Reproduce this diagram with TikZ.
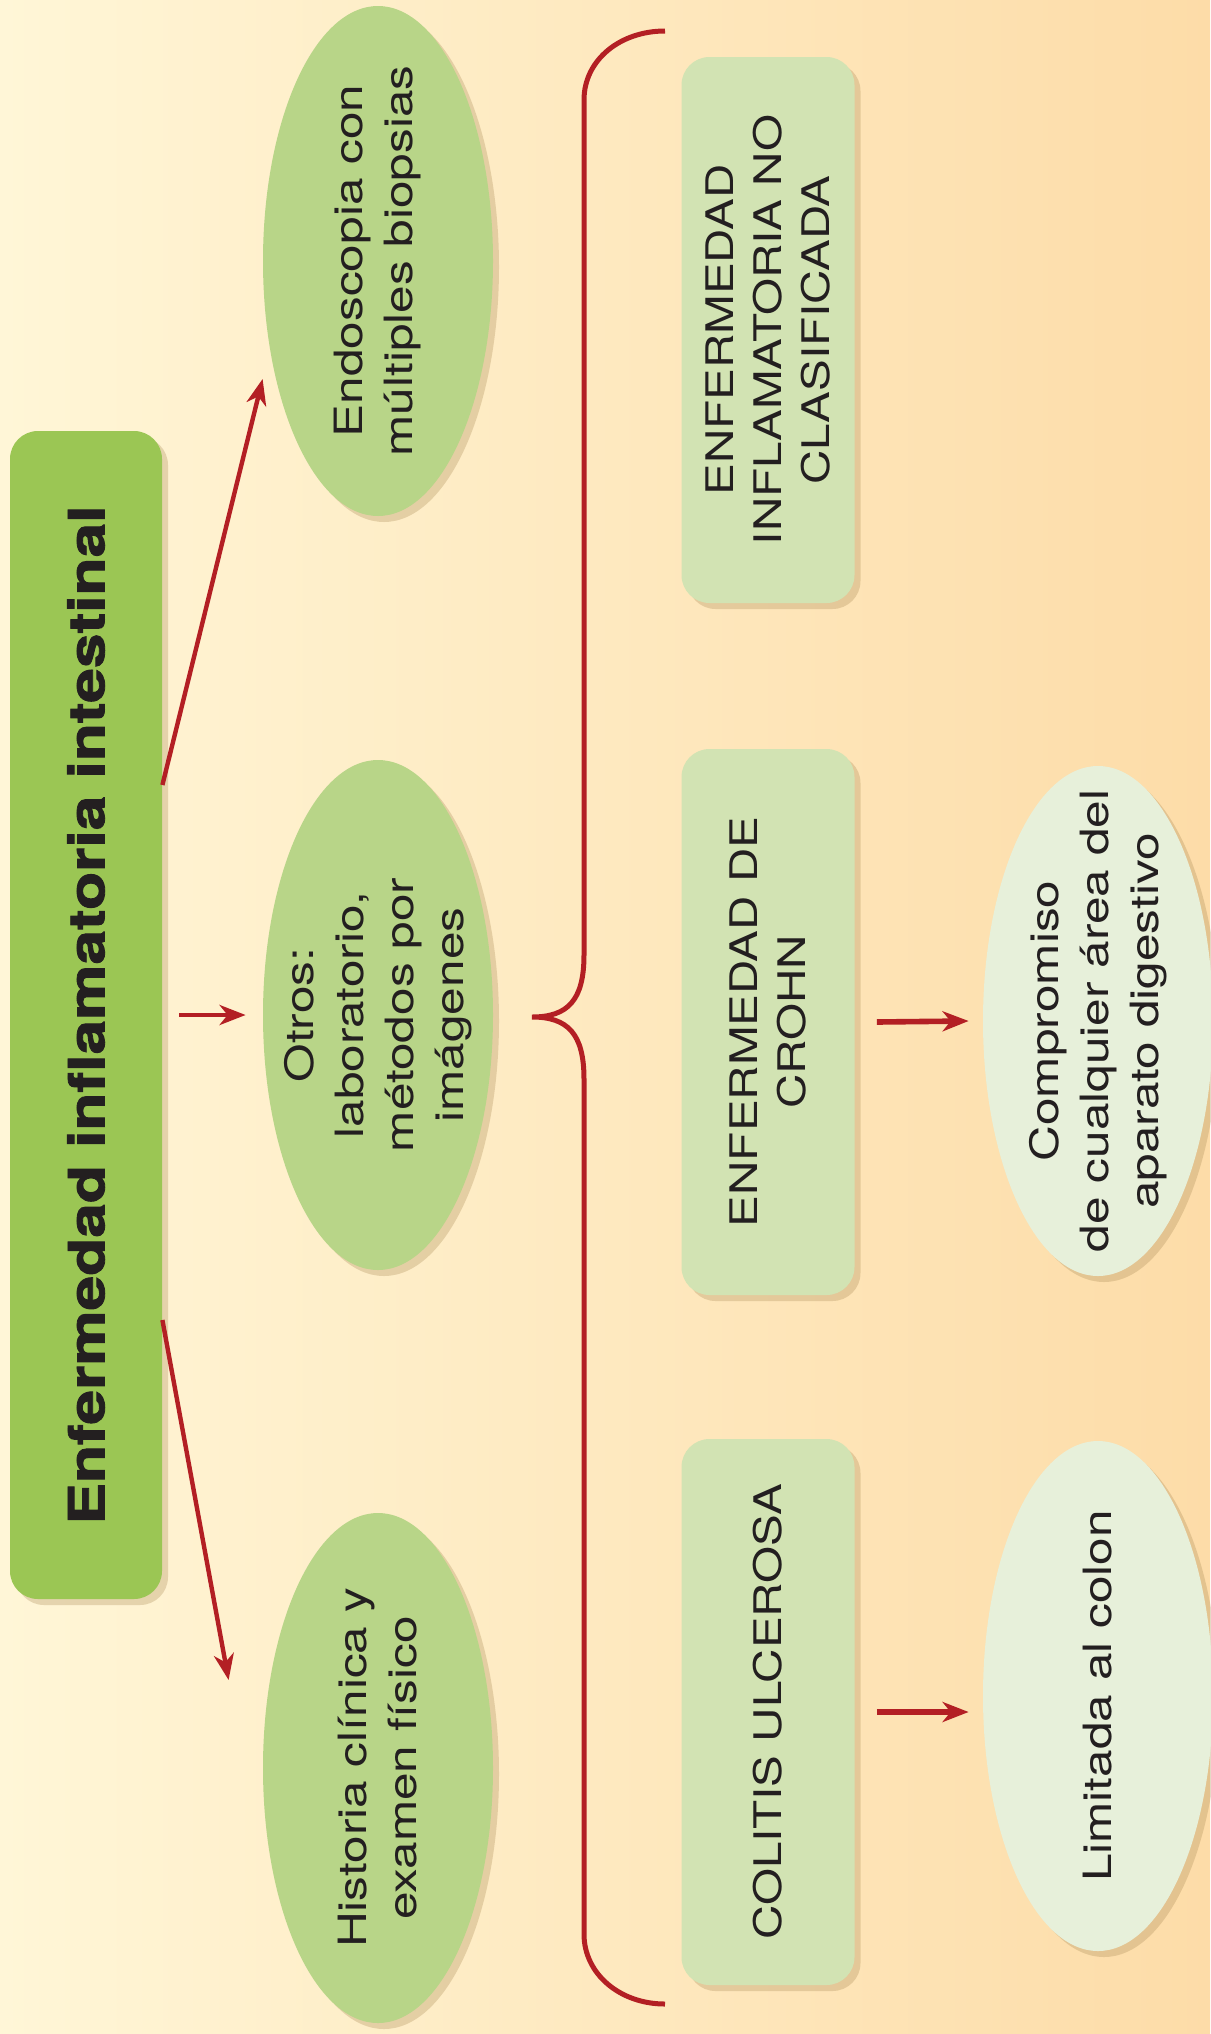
\documentclass[tikz,border=0pt]{standalone}
\usepackage{fontspec}
\setmainfont{TeX Gyre Heros}[BoldFeatures={FakeBold=1.6}]
\usepackage{tikz}
\usetikzlibrary{
  shapes.geometric,%
  % stealth tips for the red links
  arrows.meta,%
  shadows,%
  calc
}
\definecolor{bgleft}{HTML}{FFF6D7}
\definecolor{bgright}{HTML}{FDDCA8}
\definecolor{titlegreen}{HTML}{9BC654}
\definecolor{ovalgreen}{HTML}{B8D588}
\definecolor{boxgreen}{HTML}{D2E3B3}
\definecolor{palegreen}{HTML}{E7F0DA}
\definecolor{linkred}{HTML}{B31F24}
\definecolor{inkgray}{HTML}{231F20}
\definecolor{shadowtan}{HTML}{A98A55}
\tikzset{>={Stealth[length=13pt,width=10pt,inset=4pt]}}
\tikzset{font=\fontsize{19.5}{25}\selectfont}
\tikzset{
  softshadow/.style={drop shadow={shadow xshift=3pt, shadow yshift=-3pt,
      opacity=0.3, fill=shadowtan}},
  titlebox/.style={rectangle, rounded corners=14pt, fill=titlegreen,
    minimum width=76pt, minimum height=584pt, inner sep=0pt, softshadow},
  oval/.style={ellipse, minimum width=115pt, minimum height=255pt,
    inner sep=0pt, softshadow},
  darkoval/.style={oval, fill=ovalgreen},
  paleoval/.style={oval, fill=palegreen},
  kindbox/.style={rectangle, rounded corners=14pt, fill=boxgreen,
    minimum width=86.5pt, minimum height=273pt, inner sep=0pt, softshadow},
  vtext/.style={rotate=90, xscale=1.27, align=center, text=inkgray, inner sep=0pt},
  capstext/.style={vtext, xscale=0.985, font=\fontsize{19}{24}\selectfont},
  link/.style={->, draw=linkred, line width=2.2pt},
  bracket/.style={draw=linkred, line width=2.5pt}
}

\begin{document}
\begin{tikzpicture}[x=0.5pt, y=-0.5pt]
  \useasboundingbox (0,0) rectangle (1210,2034);
  \shade[left color=bgleft, right color=bgright] (0,0) rectangle (1210,2034);

  % title bar
  \node[titlebox] (eii) at (86,1015) {};
  \node[vtext, xscale=0.98, font=\fontsize{25}{30}\selectfont\bfseries] (eiiT) at (eii)
    {Enfermedad inflamatoria intestinal};

  % diagnosis
  \node[darkoval] (endo) at (378,261) {};
  \node[darkoval] (otros) at (378,1015) {};
  \node[darkoval] (hist) at (378,1768) {};
  \node[vtext] (endoT) at (endo) {Endoscopia con\\múltiples biopsias};
  \node[vtext] (otrosT) at (otros) {Otros:\\laboratorio,\\métodos por\\imágenes};
  \node[vtext] (histT) at (hist) {Historia clínica y\\examen físico};

  % forms
  \node[kindbox] (nocl) at (768,330) {};
  \node[kindbox] (crohn) at (768,1022) {};
  \node[kindbox] (cu) at (768,1712) {};
  \node[capstext] (noclT) at (nocl) {ENFERMEDAD\\INFLAMATORIA NO\\CLASIFICADA};
  \node[capstext] (crohnT) at (crohn) {ENFERMEDAD DE\\CROHN};
  \node[capstext] (cuT) at (cu) {COLITIS ULCEROSA};

  \node[paleoval] (comp) at (1098,1021) {};
  \node[paleoval] (limit) at (1098,1696) {};
  \node[vtext] (compT) at (comp) {Compromiso\\de cualquier área del\\aparato digestivo};
  \node[vtext] (limitT) at (limit) {Limitada al colon};

  % links
  \draw[link] ([yshift=115pt]eii.east) -- ([yshift=-59pt]endo.west);
  \draw[link] ([xshift=8.5pt]eii.east) -- ([xshift=-8.5pt]otros.west);
  \draw[link] ([yshift=-152.5pt]eii.east) -- ([xshift=-17pt,yshift=44pt]hist.west);
  \draw[link, line width=2.8pt] ([xshift=11pt]crohn.east) -- ([xshift=-7pt]comp.west);
  \draw[link, line width=2.8pt] ([xshift=11pt]cu.east) -- ($(cu.east -| limit.west)+(-7pt,0)$);

  % brace
  \draw[bracket] (665,31) .. controls (620,31) and (584,60) .. (584,100)
    -- (584,955) .. controls (584,1000) and (568,1017) .. (532,1017)
    .. controls (568,1017) and (584,1034) .. (584,1079)
    -- (584,1934) .. controls (584,1974) and (620,2004) .. (665,2004);
\end{tikzpicture}
\end{document}
